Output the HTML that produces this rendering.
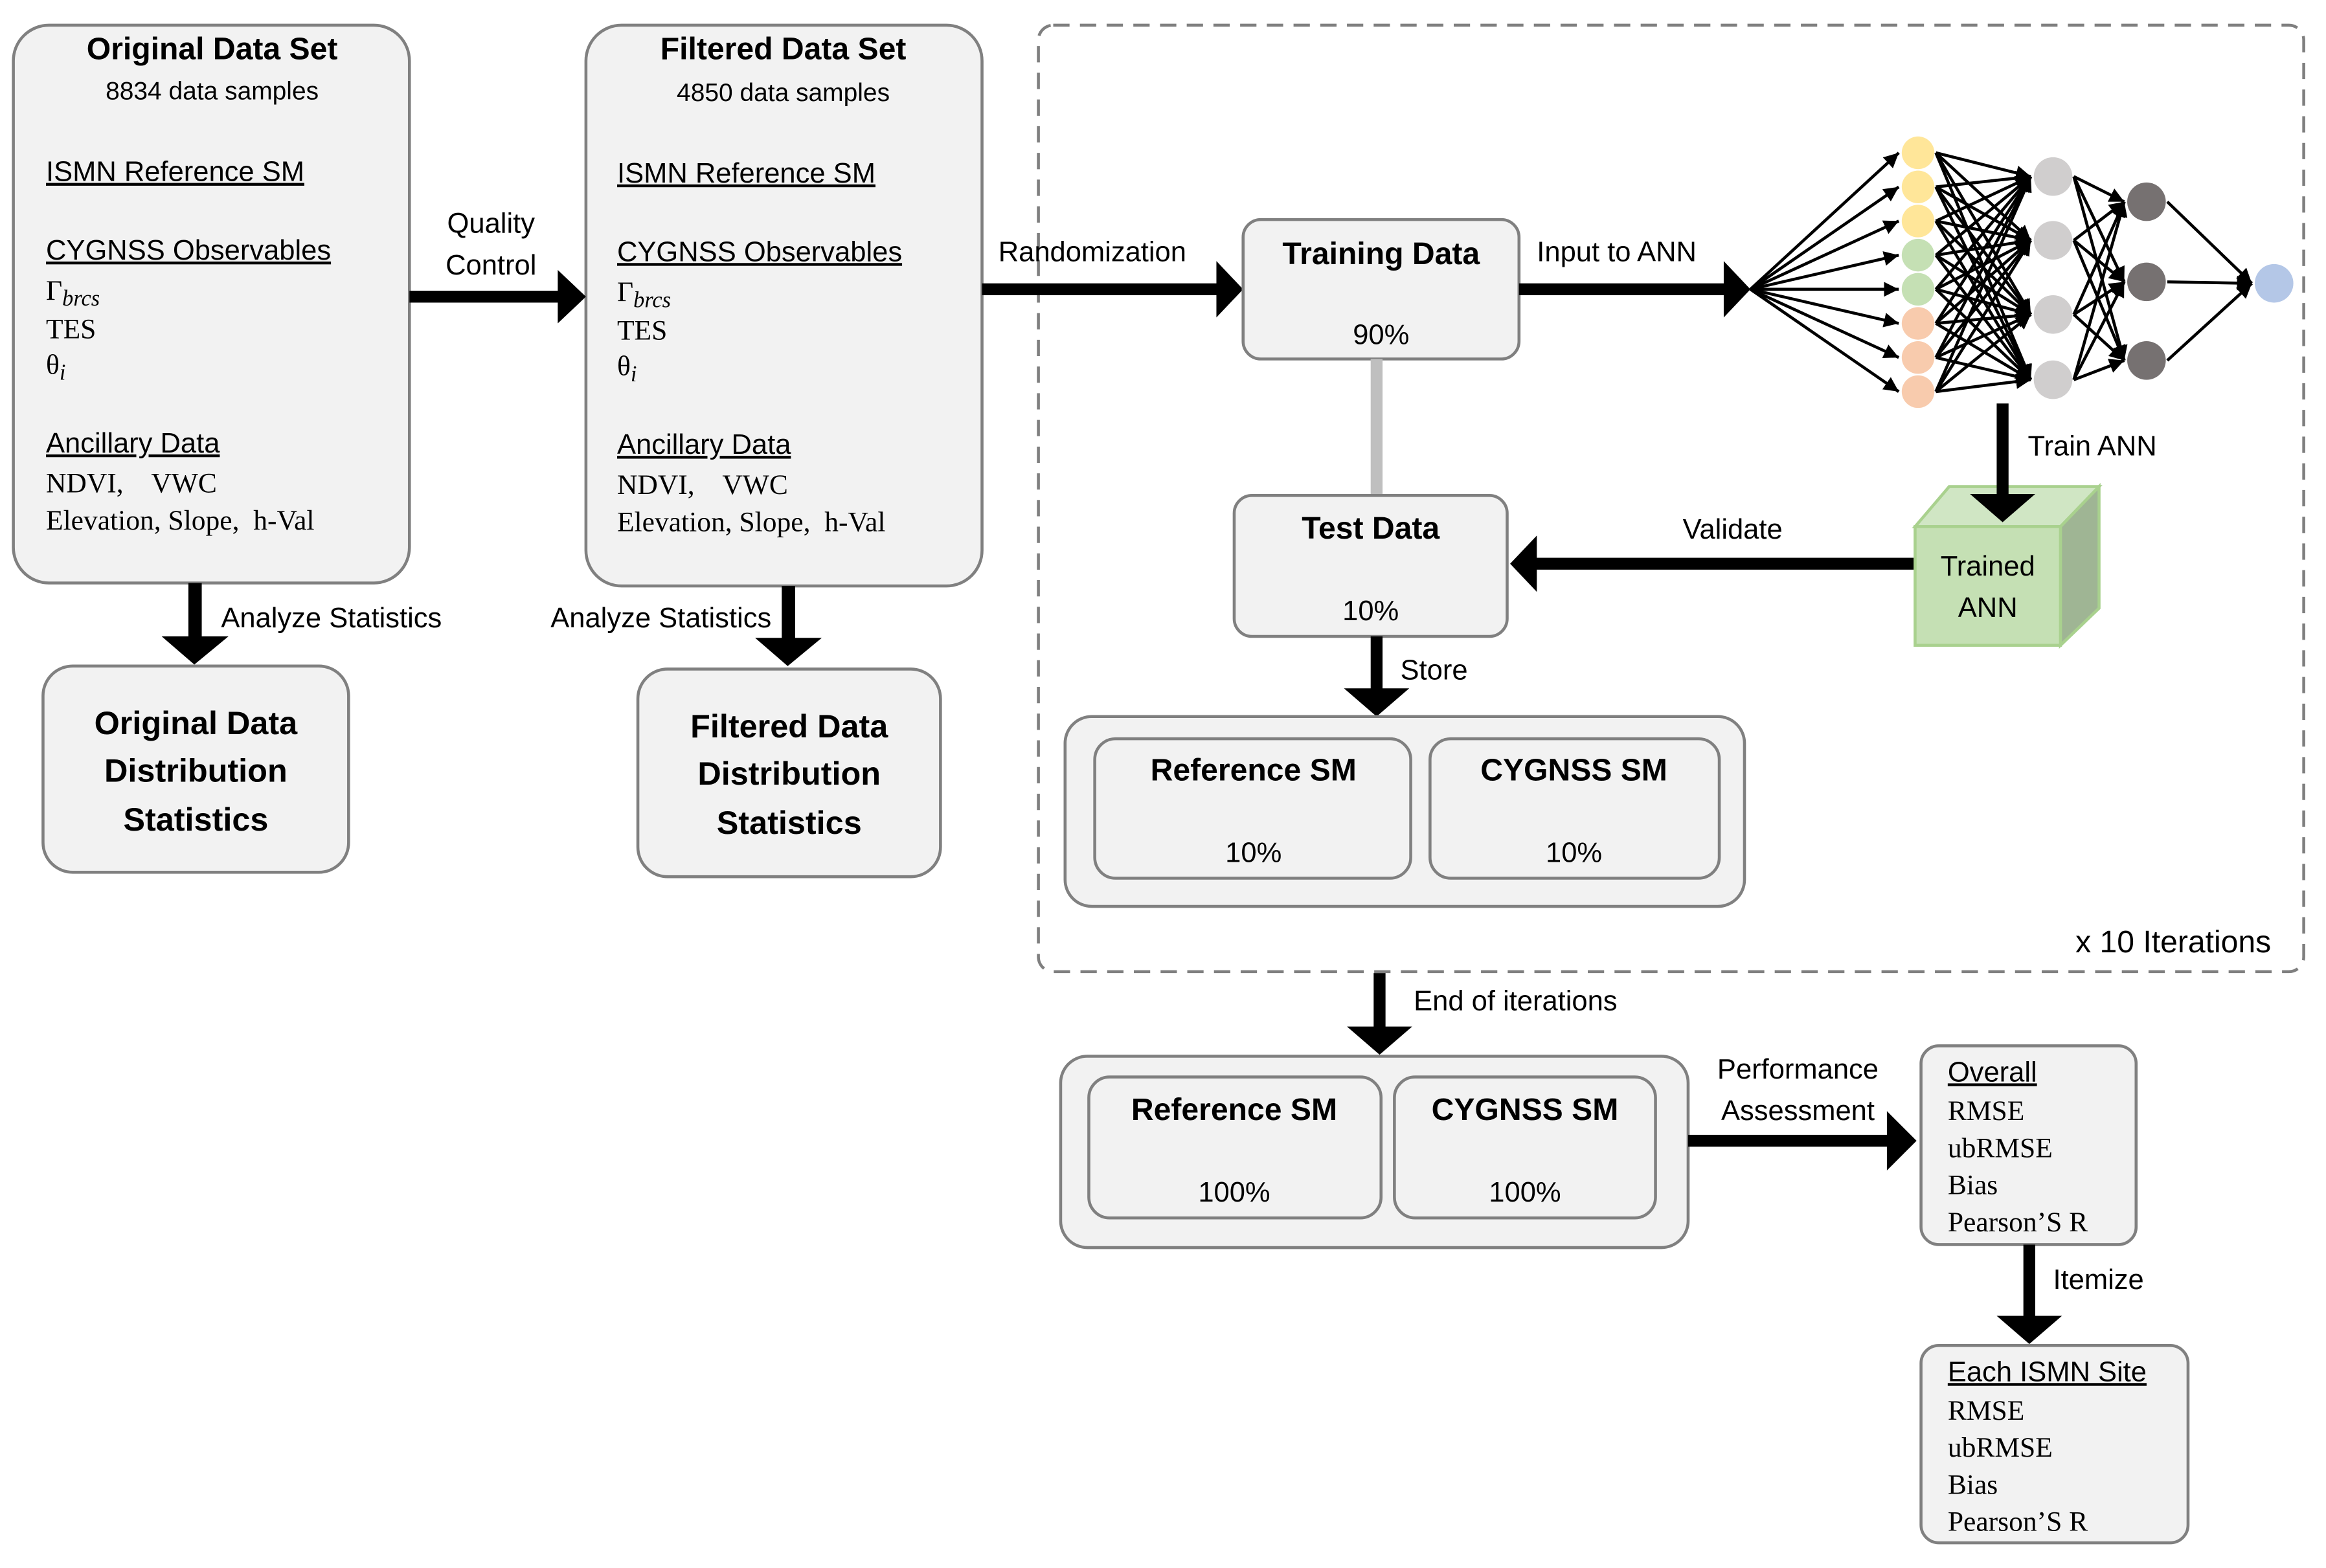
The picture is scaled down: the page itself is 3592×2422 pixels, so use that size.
<!DOCTYPE html>
<html><head><meta charset="utf-8"><style>
html,body{margin:0;padding:0;background:#fff;}
svg{display:block;}
text{font-family:"Liberation Sans",sans-serif;fill:#000;}
.s{font-family:"Liberation Serif",serif;}
.b{font-weight:bold;}
.box{fill:#f2f2f2;stroke:#808080;stroke-width:2;}
</style></head><body>
<svg id="svg" width="3592" height="2422" viewBox="0 0 1568 1057" preserveAspectRatio="none" xmlns="http://www.w3.org/2000/svg">
<defs>
<marker id="ah" viewBox="0 0 10 10" refX="10" refY="5" markerWidth="5" markerHeight="5" orient="auto"><path d="M0,0 L10,5 L0,10 z" fill="#000"/></marker>
</defs>
<!-- dashed iteration frame -->
<rect x="700" y="17" width="853" height="638" rx="10" fill="none" stroke="#7f7f7f" stroke-width="2" stroke-dasharray="11,7"/>

<!-- Box 1 -->
<rect class="box" x="9" y="17" width="267" height="376" rx="24"/>
<text x="143" y="40" text-anchor="middle" class="b" font-size="21">Original Data Set</text>
<text x="143" y="67" text-anchor="middle" font-size="17">8834 data samples</text>
<text x="31" y="122" font-size="19" text-decoration="underline">ISMN Reference SM</text>
<text x="31" y="175" font-size="19" text-decoration="underline">CYGNSS Observables</text>
<text x="31" y="202" class="s" font-size="19">Γ<tspan font-style="italic" font-size="15" dy="4">brcs</tspan></text>
<text x="31" y="228" class="s" font-size="19">TES</text>
<text x="31" y="252" class="s" font-size="19">θ<tspan font-style="italic" font-size="15" dy="4">i</tspan></text>
<text x="31" y="305" font-size="19" text-decoration="underline">Ancillary Data</text>
<text x="31" y="332" class="s" font-size="19" xml:space="preserve">NDVI,    VWC</text>
<text x="31" y="357" class="s" font-size="19" xml:space="preserve">Elevation, Slope,  h-Val</text>

<!-- Box 2 -->
<rect class="box" x="395" y="17" width="267" height="378" rx="24"/>
<text x="528" y="40" text-anchor="middle" class="b" font-size="21">Filtered Data Set</text>
<text x="528" y="68" text-anchor="middle" font-size="17">4850 data samples</text>
<text x="416" y="123" font-size="19" text-decoration="underline">ISMN Reference SM</text>
<text x="416" y="176" font-size="19" text-decoration="underline">CYGNSS Observables</text>
<text x="416" y="203" class="s" font-size="19">Γ<tspan font-style="italic" font-size="15" dy="4">brcs</tspan></text>
<text x="416" y="229" class="s" font-size="19">TES</text>
<text x="416" y="253" class="s" font-size="19">θ<tspan font-style="italic" font-size="15" dy="4">i</tspan></text>
<text x="416" y="306" font-size="19" text-decoration="underline">Ancillary Data</text>
<text x="416" y="333" class="s" font-size="19" xml:space="preserve">NDVI,    VWC</text>
<text x="416" y="358" class="s" font-size="19" xml:space="preserve">Elevation, Slope,  h-Val</text>

<!-- Quality control arrow -->
<rect x="276" y="196" width="102" height="8" fill="#000"/>
<polygon points="376,182 395,200 376,218" fill="#000"/>
<text x="331" y="157" text-anchor="middle" font-size="19">Quality</text>
<text x="331" y="185" text-anchor="middle" font-size="19">Control</text>

<!-- Analyze arrows -->
<rect x="127" y="393" width="9" height="38" fill="#000"/>
<polygon points="109,429 154,429 131,448" fill="#000"/>
<text x="149" y="423" font-size="19">Analyze Statistics</text>
<rect x="527" y="395" width="9" height="37" fill="#000"/>
<polygon points="509,430 554,430 531,449" fill="#000"/>
<text x="520" y="423" text-anchor="end" font-size="19">Analyze Statistics</text>

<!-- Stats boxes -->
<rect class="box" x="29" y="449" width="206" height="139" rx="20"/>
<text x="132" y="495" text-anchor="middle" class="b" font-size="22">Original Data</text>
<text x="132" y="527" text-anchor="middle" class="b" font-size="22">Distribution</text>
<text x="132" y="560" text-anchor="middle" class="b" font-size="22">Statistics</text>
<rect class="box" x="430" y="451" width="204" height="140" rx="20"/>
<text x="532" y="497" text-anchor="middle" class="b" font-size="22">Filtered Data</text>
<text x="532" y="529" text-anchor="middle" class="b" font-size="22">Distribution</text>
<text x="532" y="562" text-anchor="middle" class="b" font-size="22">Statistics</text>

<!-- Randomization arrow -->
<rect x="662" y="191" width="160" height="8" fill="#000"/>
<polygon points="820,176 838,195 820,214" fill="#000"/>
<text x="673" y="176" font-size="19">Randomization</text>

<!-- Training data -->
<rect class="box" x="838" y="148" width="186" height="94" rx="12"/>
<text x="931" y="178" text-anchor="middle" class="b" font-size="21">Training Data</text>
<text x="931" y="232" text-anchor="middle" font-size="19">90%</text>

<!-- Input to ANN arrow -->
<rect x="1024" y="191" width="140" height="8" fill="#000"/>
<polygon points="1162,176 1180,195 1162,214" fill="#000"/>
<text x="1036" y="176" font-size="19">Input to ANN</text>

<!-- grey link -->
<rect x="924" y="242" width="8" height="92" fill="#bfbfbf"/>

<!-- Test data -->
<rect class="box" x="832" y="334" width="184" height="95" rx="12"/>
<text x="924" y="363" text-anchor="middle" class="b" font-size="21">Test Data</text>
<text x="924" y="418" text-anchor="middle" font-size="19">10%</text>

<!-- Validate arrow -->
<rect x="1034" y="376" width="258" height="8" fill="#000"/>
<polygon points="1036,361 1018,380 1036,399" fill="#000"/>
<text x="1168" y="363" text-anchor="middle" font-size="19">Validate</text>

<!-- Trained ANN cube -->
<polygon points="1291,355 1314,328 1415,328 1389,355" fill="#d0e6c4" stroke="#a9d18e" stroke-width="2"/>
<polygon points="1389,355 1415,328 1415,410 1389,435" fill="#9fb594" stroke="#a9d18e" stroke-width="2"/>
<rect x="1291" y="355" width="98" height="80" fill="#c5e0b4" stroke="#a9d18e" stroke-width="2"/>
<text x="1340" y="388" text-anchor="middle" font-size="19">Trained</text>
<text x="1340" y="416" text-anchor="middle" font-size="19">ANN</text>

<!-- Train ANN arrow -->
<rect x="1346" y="272" width="8" height="63" fill="#000"/>
<polygon points="1328,333 1372,333 1350,352" fill="#000"/>
<text x="1367" y="307" font-size="19">Train ANN</text>

<!-- Store arrow -->
<rect x="924" y="429" width="8" height="37" fill="#000"/>
<polygon points="906,464 950,464 928,483" fill="#000"/>
<text x="944" y="458" font-size="19">Store</text>

<!-- Stored SM -->
<rect class="box" x="718" y="483" width="458" height="128" rx="18"/>
<rect class="box" x="738" y="498" width="213" height="94" rx="14"/>
<text x="845" y="526" text-anchor="middle" class="b" font-size="21">Reference SM</text>
<text x="845" y="581" text-anchor="middle" font-size="19">10%</text>
<rect class="box" x="964" y="498" width="195" height="94" rx="14"/>
<text x="1061" y="526" text-anchor="middle" class="b" font-size="21">CYGNSS SM</text>
<text x="1061" y="581" text-anchor="middle" font-size="19">10%</text>

<text x="1531" y="642" text-anchor="end" font-size="21">x 10 Iterations</text>

<!-- End of iterations -->
<rect x="926" y="656" width="8" height="38" fill="#000"/>
<polygon points="908,692 952,692 930,711" fill="#000"/>
<text x="953" y="681" font-size="19">End of iterations</text>

<!-- Final SM -->
<rect class="box" x="715" y="712" width="423" height="129" rx="18"/>
<rect class="box" x="734" y="726" width="197" height="95" rx="14"/>
<text x="832" y="755" text-anchor="middle" class="b" font-size="21">Reference SM</text>
<text x="832" y="810" text-anchor="middle" font-size="19">100%</text>
<rect class="box" x="940" y="726" width="176" height="95" rx="14"/>
<text x="1028" y="755" text-anchor="middle" class="b" font-size="21">CYGNSS SM</text>
<text x="1028" y="810" text-anchor="middle" font-size="19">100%</text>

<!-- Performance arrow -->
<rect x="1138" y="765" width="136" height="8" fill="#000"/>
<polygon points="1272,749 1292,769 1272,789" fill="#000"/>
<text x="1212" y="727" text-anchor="middle" font-size="19">Performance</text>
<text x="1212" y="755" text-anchor="middle" font-size="19">Assessment</text>

<!-- Overall -->
<rect class="box" x="1295" y="705" width="145" height="134" rx="12"/>
<text x="1313" y="729" font-size="19" text-decoration="underline">Overall</text>
<text x="1313" y="755" class="s" font-size="19">RMSE</text>
<text x="1313" y="780" class="s" font-size="19">ubRMSE</text>
<text x="1313" y="805" class="s" font-size="19">Bias</text>
<text x="1313" y="830" class="s" font-size="19">Pearson’S R</text>

<!-- Itemize -->
<rect x="1364" y="839" width="8" height="50" fill="#000"/>
<polygon points="1346,887 1390,887 1368,906" fill="#000"/>
<text x="1384" y="869" font-size="19">Itemize</text>

<rect class="box" x="1295" y="907" width="180" height="133" rx="12"/>
<text x="1313" y="931" font-size="19" text-decoration="underline">Each ISMN Site</text>
<text x="1313" y="957" class="s" font-size="19">RMSE</text>
<text x="1313" y="982" class="s" font-size="19">ubRMSE</text>
<text x="1313" y="1007" class="s" font-size="19">Bias</text>
<text x="1313" y="1032" class="s" font-size="19">Pearson’S R</text>

<g id="nn" stroke="#000" stroke-width="2" fill="none"></g>
<g id="nodes"></g>
</svg>
<script>
(function(){
var ns="http://www.w3.org/2000/svg";
var nn=document.getElementById("nn"),nodes=document.getElementById("nodes");
function line(x1,y1,x2,y2){var l=document.createElementNS(ns,"line");l.setAttribute("x1",x1);l.setAttribute("y1",y1);l.setAttribute("x2",x2);l.setAttribute("y2",y2);l.setAttribute("marker-end","url(#ah)");nn.appendChild(l);}
function circ(x,y,r,c){var e=document.createElementNS(ns,"circle");e.setAttribute("cx",x);e.setAttribute("cy",y);e.setAttribute("r",r);e.setAttribute("fill",c);nodes.appendChild(e);}
var inY=[103,126,149,172,195,218,241,264],inC=["#ffe699","#ffe699","#ffe699","#c5e0b4","#c5e0b4","#f8cbad","#f8cbad","#f8cbad"];
var h1=[119,162,212,256],h2=[136,190,243];
inY.forEach(function(y){line(1180,195,1280,y);});
inY.forEach(function(y){h1.forEach(function(z){line(1305,y,1369,z);});});
h1.forEach(function(y){h2.forEach(function(z){line(1398,y,1432,z);});});
h2.forEach(function(y){line(1461,y,1518,191);});
inY.forEach(function(y,i){circ(1293,y,11,inC[i]);});
h1.forEach(function(y){circ(1384,y,13,"#d0cece");});
h2.forEach(function(y){circ(1447,y,13,"#767171");});
circ(1533,191,13,"#b4c7e7");
})();
</script>
</body></html>
